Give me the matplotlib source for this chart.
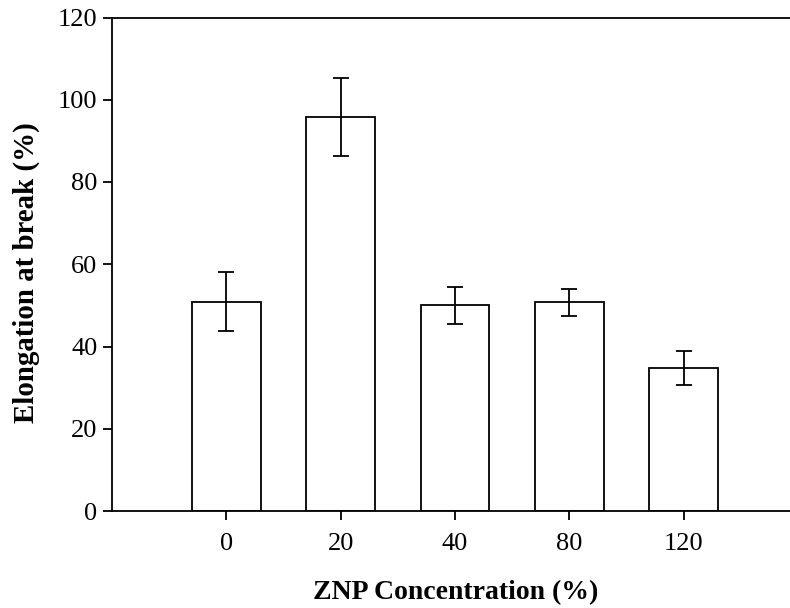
import matplotlib
matplotlib.use("Agg")
import matplotlib.pyplot as plt
import numpy as np

plt.rcParams['font.family'] = ['Liberation Serif', 'DejaVu Serif']

concentrations = ['0', '20', '40', '80', '120']
elongation = [50.9, 95.8, 50.0, 50.7, 34.8]
errors = [7.2, 9.4, 4.5, 3.4, 4.2]

fig = plt.figure(figsize=(7.9, 6.08), dpi=100)
ax = fig.add_axes([112 / 790, 1 - 511 / 608, 1 - 112 / 790, (511 - 17.5) / 608])

x = np.arange(len(concentrations))
ax.bar(x, elongation, width=0.6, color='white', edgecolor='black', linewidth=1.3,
       yerr=errors, capsize=5.8, error_kw={'elinewidth': 1.3, 'capthick': 1.3, 'ecolor': 'black'})

ax.set_xlim(-1, 4.93)
ax.set_ylim(0, 120)
ax.set_yticks(np.arange(0, 121, 20))
ax.set_xticks(x)
ax.set_xticklabels(concentrations)
ax.spines['right'].set_visible(False)
for s in ['left', 'bottom', 'top']:
    ax.spines[s].set_linewidth(1.3)
ax.tick_params(axis='both', direction='out', length=6.5, width=1.3, labelsize=19)
ax.tick_params(axis='x', pad=9)
ax.tick_params(axis='y', pad=4)

ax.set_xlabel('ZNP Concentration (%)', fontsize=20, fontweight='bold')
ax.set_ylabel('Elongation at break (%)', fontsize=20.8, fontweight='bold')
ax.xaxis.set_label_coords(0.507, -0.140)
ax.yaxis.set_label_coords(-0.106, 0.484)

fig.savefig('out.png', dpi=100)
